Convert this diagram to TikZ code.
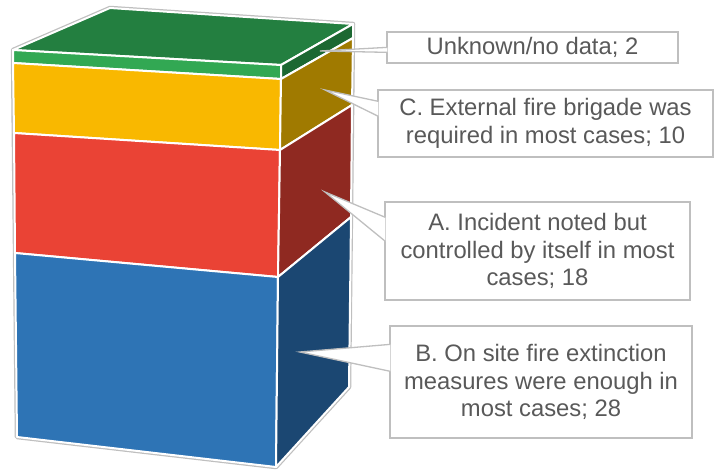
\documentclass[tikz,border=0pt]{standalone}
\usepackage{fontspec}
\setmainfont{Liberation Sans}
\definecolor{topgreen}{RGB}{35,127,64}
\definecolor{frontgreen}{RGB}{50,168,83}
\definecolor{sidegreen}{RGB}{28,104,50}
\definecolor{frontyellow}{RGB}{249,184,0}
\definecolor{sideyellow}{RGB}{160,122,0}
\definecolor{frontred}{RGB}{234,67,53}
\definecolor{sidered}{RGB}{143,41,33}
\definecolor{frontblue}{RGB}{46,116,181}
\definecolor{sideblue}{RGB}{27,71,114}
\definecolor{boxgray}{RGB}{191,191,191}
\definecolor{textgray}{RGB}{89,89,89}
\tikzset{
	face/.style={draw=white, line width=2pt, line join=round},
	labelbox/.style={draw=boxgray, line width=1.3pt, fill=white, text=textgray, align=center, inner sep=0pt, font=\fontsize{23.8}{27.6}\selectfont},
	callout/.style={draw=boxgray, line width=1.3pt, fill=white},
}

\begin{document}
\begin{tikzpicture}[x=1pt,y=-1pt]
	\useasboundingbox (0,0) rectangle (715,469);
	\draw [boxgray, line width=4.5pt, line join=round] (13,50) -- (110,8) -- (353,24) -- (349,387) -- (276,467) -- (17,437) -- cycle;
	\path [face, fill=topgreen] (13,50) -- (110,8) -- (353,24) -- (281,65) -- cycle;
	\path [face, fill=frontgreen] (13,50) -- (281,65) -- (281,79) -- (13,63) -- cycle;
	\path [face, fill=sidegreen] (281,65) -- (353,24) -- (353,38) -- (281,79) -- cycle;
	\path [face, fill=frontyellow] (13,63) -- (281,79) -- (280,150) -- (14,133) -- cycle;
	\path [face, fill=sideyellow] (281,79) -- (353,38) -- (352,105) -- (280,150) -- cycle;
	\path [face, fill=frontred] (14,133) -- (280,150) -- (278,277) -- (15,253) -- cycle;
	\path [face, fill=sidered] (280,150) -- (352,105) -- (351,217) -- (278,277) -- cycle;
	\path [face, fill=frontblue] (15,253) -- (278,277) -- (276,467) -- (17,437) -- cycle;
	\path [face, fill=sideblue] (278,277) -- (351,217) -- (349,387) -- (276,467) -- cycle;

	\coordinate (tipU) at (320,51);
	\coordinate (tipC) at (325,90);
	\coordinate (tipA) at (325,192);
	\coordinate (tipB) at (300,352);

	\node [labelbox, minimum width=291pt, minimum height=31pt] (unk) at (532.5,47.5) {Unknown/no data; 2};
	\node [labelbox, minimum width=335pt, minimum height=67pt] (capC) at (545.5,123.5) {C. External fire brigade was\\required in most cases; 10};
	\node [labelbox, minimum width=305pt, minimum height=98pt] (capA) at (537.5,251) {A. Incident noted but\\controlled by itself in most\\cases; 18};
	\node [labelbox, minimum width=302pt, minimum height=112pt] (capB) at (541,382) {B. On site fire extinction\\measures were enough in\\most cases; 28};

	\path [callout] ([xshift=1pt,yshift=-16pt]unk.north west) -- (tipU) -- ([xshift=1pt,yshift=-21pt]unk.north west);
	\path [callout] ([xshift=1pt,yshift=-12pt]capC.north west) -- (tipC) -- ([xshift=1pt,yshift=-27pt]capC.north west);
	\path [callout] ([xshift=1pt,yshift=-16pt]capA.north west) -- (tipA) -- ([xshift=1pt,yshift=-40pt]capA.north west);
	\path [callout] ([xshift=1pt,yshift=-19pt]capB.north west) -- (tipB) -- ([xshift=1pt,yshift=-46pt]capB.north west);
\end{tikzpicture}
\end{document}
